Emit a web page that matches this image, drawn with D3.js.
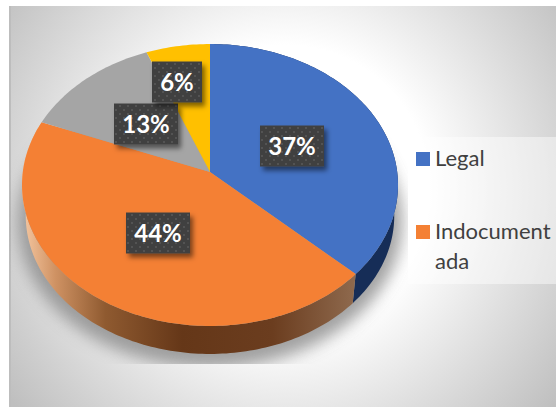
<!DOCTYPE html>
<html>
<head>
<meta charset="utf-8">
<script src="https://cdn.jsdelivr.net/npm/d3@7"></script>
<style>
  html, body { margin: 0; padding: 0; background: #fff; }
  svg { display: block; }
</style>
</head>
<body>
<svg id="chart" width="556" height="407"></svg>
<script>
const sliceIds = ["legal", "indocumentada", "grey", "yellow"];
const sliceValues = [37, 44, 13, 6];
const sliceColors = ["#4472c4", "#f48034", "#a5a5a5", "#ffc000"];
const sliceLabels = ["37%", "44%", "13%", "6%"];
const legendLines = [["Legal"], ["Indocument", "ada"]];

const width = 556;
const height = 407;
const apexX = 210;
const apexY = 172;

// the pie is tilted with perspective, so the apex sits above the middle of the ellipse
const tilt = -0.0922;
const scaleU = 187.2;
const scaleV = 123.9;
const baseShrink = 0.98;
const baseDrop = 34.5;

const svg = d3.select("#chart");
const defs = svg.append("defs");

const color = d3.scaleOrdinal().domain(sliceIds).range(sliceColors);
const pie = d3.pie().sort(null).value(d => d.value);
const slices = pie(sliceIds.map((id, i) => ({ id, value: sliceValues[i], label: sliceLabels[i] })));

function project(angle, r) {
  const u = Math.sin(angle) * r;
  const v = -Math.cos(angle) * r;
  const w = 1 + tilt * v;
  return [apexX + scaleU * u / w, (scaleV * v + apexY) / w];
}

function projectTop(angle) {
  return project(angle, 1);
}

function projectBase(angle) {
  const p = project(angle, 1);
  return [apexX + (p[0] - apexX) * baseShrink, p[1] * baseShrink + baseDrop];
}

function arcPoints(a0, a1, fn) {
  const n = Math.max(2, Math.ceil((a1 - a0) / 0.02));
  return d3.range(n + 1).map(i => fn(a0 + (a1 - a0) * i / n));
}

const line = d3.line();

//////////////////////////////////////////////
// defs

const bg = defs.append("radialGradient").attr("id", "bg")
  .attr("gradientUnits", "userSpaceOnUse")
  .attr("cx", 285).attr("cy", 190).attr("r", 345);
bg.append("stop").attr("offset", 0.42).attr("stop-color", "#ffffff");
bg.append("stop").attr("offset", 1).attr("stop-color", "#bfbfbf");

const orangeSide = defs.append("linearGradient").attr("id", "orangeSide")
  .attr("gradientUnits", "userSpaceOnUse")
  .attr("x1", 22).attr("x2", 356).attr("y1", 0).attr("y2", 0);
[[0, "#f6c8a2"], [0.1, "#cf9263"], [0.25, "#8f5a30"], [0.48, "#653718"], [0.75, "#6b3d1f"], [1, "#8f6a4e"]]
  .forEach(s => orangeSide.append("stop").attr("offset", s[0]).attr("stop-color", s[1]));

const dots = defs.append("pattern").attr("id", "dots")
  .attr("patternUnits", "userSpaceOnUse")
  .attr("width", 8).attr("height", 8);
dots.append("rect").attr("width", 8).attr("height", 8).attr("fill", "#404040");
dots.append("rect").attr("x", 1).attr("y", 1).attr("width", 2).attr("height", 2).attr("fill", "#535353");
dots.append("rect").attr("x", 5).attr("y", 5).attr("width", 2).attr("height", 2).attr("fill", "#535353");

defs.append("filter").attr("id", "pieShadow")
  .attr("x", "-20%").attr("y", "-20%").attr("width", "140%").attr("height", "140%")
  .append("feGaussianBlur").attr("stdDeviation", 8);

const boxShadow = defs.append("filter").attr("id", "boxShadow")
  .attr("x", "-30%").attr("y", "-30%").attr("width", "170%").attr("height", "170%");
boxShadow.append("feDropShadow")
  .attr("dx", 3).attr("dy", 4).attr("stdDeviation", 2.5)
  .attr("flood-color", "#000").attr("flood-opacity", 0.5);

defs.append("clipPath").attr("id", "plotClip")
  .append("rect").attr("x", 9).attr("y", 6).attr("width", 399).attr("height", 358);

//////////////////////////////////////////////
// background

svg.append("rect").attr("x", 9).attr("y", 6)
  .attr("width", width - 9).attr("height", height - 6)
  .attr("fill", "url(#bg)");
svg.append("rect").attr("x", 9).attr("y", 6)
  .attr("width", 2).attr("height", height - 6)
  .attr("fill", "#bdbdbd");

// soft shadow under the pie, cut off by the plot area
svg.append("g").attr("clip-path", "url(#plotClip)")
  .append("path")
  .attr("d", line(arcPoints(0, 2 * Math.PI, projectBase)) + "Z")
  .attr("transform", "translate(0,6)")
  .attr("fill", "#8a8a8a")
  .attr("stroke", "#8a8a8a")
  .attr("stroke-width", 16)
  .attr("opacity", 0.8)
  .attr("filter", "url(#pieShadow)");

//////////////////////////////////////////////
// pie side, then top face

svg.append("g").selectAll("path")
  .data(slices.slice(0, 2))
  .join("path")
  .attr("d", d => line(arcPoints(d.startAngle, d.endAngle, projectTop)
    .concat(arcPoints(d.startAngle, d.endAngle, projectBase).reverse())) + "Z")
  .attr("fill", d => d.data.id === "legal" ? "#162d57" : "url(#orangeSide)");

svg.append("g").selectAll("path")
  .data(slices)
  .join("path")
  .attr("d", d => line([[apexX, apexY]].concat(arcPoints(d.startAngle, d.endAngle, projectTop))) + "Z")
  .attr("fill", d => color(d.data.id));

//////////////////////////////////////////////
// data labels

const labelRadius = [0.47, 0.5, 0.5, 0.7];
const labelShift = [3, 0, 0, -10];

const labels = svg.append("g").selectAll("g")
  .data(slices)
  .join("g")
  .attr("transform", (d, i) => {
    const p = project((d.startAngle + d.endAngle) / 2, labelRadius[i]);
    return `translate(${Math.round(p[0] + labelShift[i])},${Math.round(p[1])})`;
  });

labels.append("rect")
  .attr("x", d => d.data.label.length > 2 ? -32 : -25)
  .attr("y", -20.5)
  .attr("width", d => d.data.label.length > 2 ? 64 : 50)
  .attr("height", 41)
  .attr("fill", "url(#dots)")
  .attr("filter", "url(#boxShadow)");

labels.append("text")
  .attr("text-anchor", "middle")
  .attr("y", 9)
  .attr("font-family", "Lato, 'Open Sans', sans-serif")
  .attr("font-size", 24)
  .attr("font-weight", 700)
  .attr("fill", "#fff")
  .text(d => d.data.label);

//////////////////////////////////////////////
// legend

svg.append("rect").attr("x", 408).attr("y", 137)
  .attr("width", width - 408).attr("height", 147)
  .attr("fill", "#fff").attr("opacity", 0.45);

const legendY = [152, 225];
const legend = svg.append("g").selectAll("g")
  .data(legendLines)
  .join("g")
  .attr("transform", (d, i) => `translate(416,${legendY[i]})`);

legend.append("rect")
  .attr("width", 14).attr("height", 14)
  .attr("fill", (d, i) => color(sliceIds[i]));

legend.selectAll("text")
  .data(d => d)
  .join("text")
  .attr("x", 19)
  .attr("y", (d, i) => 14 + i * 30)
  .attr("font-family", "Lato, 'Open Sans', sans-serif")
  .attr("font-size", 22)
  .attr("fill", "#404040")
  .text(d => d);
</script>
</body>
</html>
